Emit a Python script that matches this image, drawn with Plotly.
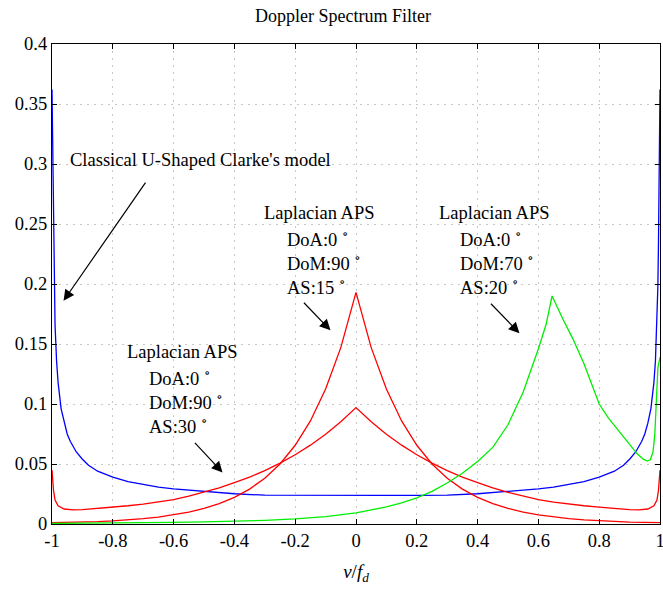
import plotly.graph_objects as go

# ---------------- data ----------------
clarke_x = [-1, -0.997, -0.995, -0.993, -0.99, -0.985, -0.98, -0.97, -0.96, -0.95, -0.94, -0.92,
            -0.9, -0.88, -0.85, -0.8, -0.75, -0.7, -0.65, -0.6, -0.5, -0.4, -0.3, -0.2, -0.1, 0,
            0.1, 0.2, 0.3, 0.4, 0.5, 0.6, 0.65, 0.7, 0.75, 0.8, 0.85, 0.88, 0.9, 0.92, 0.94, 0.95,
            0.96, 0.97, 0.98, 0.985, 0.99, 0.993, 0.995, 0.997, 1]
clarke_y = [0.362, 0.302, 0.234, 0.198, 0.166, 0.136, 0.118, 0.096, 0.084, 0.075, 0.069, 0.060,
            0.054, 0.049, 0.044, 0.039, 0.0354, 0.0328, 0.0308, 0.0293, 0.0270, 0.0252, 0.0240,
            0.0238, 0.0238, 0.0238, 0.0238, 0.0238, 0.0240, 0.0252, 0.0270, 0.0293, 0.0308, 0.0328,
            0.0354, 0.039, 0.044, 0.049, 0.054, 0.060, 0.069, 0.075, 0.084, 0.096, 0.118, 0.136,
            0.166, 0.198, 0.234, 0.302, 0.362]

as15_x = [-1, -0.95, -0.9, -0.85, -0.8, -0.75, -0.7, -0.65, -0.6, -0.55, -0.5, -0.45, -0.4, -0.35,
          -0.3, -0.25, -0.2, -0.15, -0.1, -0.05, 0, 0.05, 0.1, 0.15, 0.2, 0.25, 0.3, 0.35, 0.4,
          0.45, 0.5, 0.55, 0.6, 0.65, 0.7, 0.75, 0.8, 0.85, 0.9, 0.95, 1]
as15_y = [0.0012, 0.0013, 0.0015, 0.0020, 0.0026, 0.0034, 0.0044, 0.0058, 0.0076, 0.0099, 0.0130,
          0.0170, 0.0222, 0.0291, 0.0382, 0.0500, 0.0656, 0.0859, 0.1125, 0.147, 0.193, 0.147,
          0.1125, 0.0859, 0.0656, 0.0500, 0.0382, 0.0291, 0.0222, 0.0170, 0.0130, 0.0099, 0.0076,
          0.0058, 0.0044, 0.0034, 0.0026, 0.0020, 0.0015, 0.0013, 0.0012]

as30_x = [-1, -0.995, -0.99, -0.98, -0.96, -0.93, -0.9, -0.85, -0.8, -0.75, -0.7, -0.65, -0.6,
          -0.55, -0.5, -0.45, -0.4, -0.35, -0.3, -0.25, -0.2, -0.15, -0.1, -0.05, 0, 0.05, 0.1,
          0.15, 0.2, 0.25, 0.3, 0.35, 0.4, 0.45, 0.5, 0.55, 0.6, 0.65, 0.7, 0.75, 0.8, 0.85, 0.9,
          0.93, 0.96, 0.98, 0.99, 0.995, 1]
as30_y = [0.045, 0.028, 0.020, 0.0152, 0.0125, 0.0118, 0.0119, 0.0128, 0.0140, 0.0152, 0.0166,
          0.0183, 0.0204, 0.0232, 0.0264, 0.0301, 0.0345, 0.0391, 0.0445, 0.0507, 0.0577, 0.0657,
          0.0748, 0.0852, 0.097, 0.0852, 0.0748, 0.0657, 0.0577, 0.0507, 0.0445, 0.0391, 0.0345,
          0.0301, 0.0264, 0.0232, 0.0204, 0.0183, 0.0166, 0.0152, 0.0140, 0.0128, 0.0119, 0.0118,
          0.0125, 0.0152, 0.020, 0.028, 0.045]

dom70_x = [-1, -0.9, -0.8, -0.7, -0.6, -0.5, -0.4, -0.3, -0.2, -0.1, 0, 0.05, 0.1, 0.15, 0.2,
           0.25, 0.3, 0.35, 0.4, 0.45, 0.5, 0.55, 0.6, 0.625, 0.645, 0.68, 0.713, 0.75, 0.77, 0.8,
           0.83, 0.867, 0.9, 0.925, 0.945, 0.958, 0.968, 0.977, 0.983, 0.988, 0.993, 1]
dom70_y = [0.0005, 0.0006, 0.0008, 0.0010, 0.0013, 0.0017, 0.0022, 0.0030, 0.0042, 0.0062, 0.0093,
           0.0115, 0.0142, 0.0176, 0.0218, 0.0272, 0.0342, 0.0423, 0.052, 0.0638, 0.0827, 0.110,
           0.146, 0.166, 0.190, 0.171, 0.1545, 0.1336, 0.1197, 0.100, 0.0885, 0.0766, 0.066,
           0.0585, 0.0540, 0.0525, 0.0535, 0.060, 0.075, 0.111, 0.13, 0.139]

x_ticks = [-1, -0.8, -0.6, -0.4, -0.2, 0, 0.2, 0.4, 0.6, 0.8, 1]
x_tick_labels = ["-1", "-0.8", "-0.6", "-0.4", "-0.2", "0", "0.2", "0.4", "0.6", "0.8", "1"]
y_ticks = [0, 0.05, 0.1, 0.15, 0.2, 0.25, 0.3, 0.35, 0.4]
y_tick_labels = ["0", "0.05", "0.1", "0.15", "0.2", "0.25", "0.3", "0.35", "0.4"]

FONT = "Liberation Serif, Times New Roman, DejaVu Serif, serif"
ANN_SIZE = 18.5

fig = go.Figure()
fig.add_trace(go.Scatter(x=clarke_x, y=clarke_y, mode="lines", line=dict(color="#0000ff", width=1.3)))
fig.add_trace(go.Scatter(x=as15_x, y=as15_y, mode="lines", line=dict(color="#ff0000", width=1.3)))
fig.add_trace(go.Scatter(x=as30_x, y=as30_y, mode="lines", line=dict(color="#ff0000", width=1.3)))
fig.add_trace(go.Scatter(x=dom70_x, y=dom70_y, mode="lines", line=dict(color="#00ee00", width=1.3)))

deg = "<sup>∘</sup>"
texts = [
    ("Classical U-Shaped Clarke's model", -0.949, 0.303),
    ("Laplacian APS", -0.3076, 0.259),
    ("DoA:0 " + deg + "<br>DoM:90 " + deg + "<br>AS:15 " + deg, -0.235, 0.218),
    ("Laplacian APS", 0.2648, 0.259),
    ("DoA:0 " + deg + "<br>DoM:70 " + deg + "<br>AS:20 " + deg, 0.337, 0.218),
    ("Laplacian APS", -0.7615, 0.1431),
    ("DoA:0 " + deg + "<br>DoM:90 " + deg + "<br>AS:30 " + deg, -0.689, 0.1022),
]
annotations = []
for t, ax_, ay_ in texts:
    annotations.append(dict(text=t, x=ax_, y=ay_, xref="x", yref="y", showarrow=False,
                            xanchor="left", yanchor="middle", align="left",
                            font=dict(family=FONT, size=ANN_SIZE, color="black")))

arrows = [
    ((-0.689, 0.2857), (-0.962, 0.186)),
    ((-0.176, 0.1856), (-0.084, 0.1614)),
    ((0.4391, 0.1848), (0.5378, 0.159)),
    ((-0.5345, 0.0688), (-0.439, 0.043)),
]
for (tx, ty), (hx, hy) in arrows:
    annotations.append(dict(text="", x=hx, y=hy, ax=tx, ay=ty, xref="x", yref="y",
                            axref="x", ayref="y", showarrow=True, arrowhead=2,
                            arrowsize=1.8, arrowwidth=1.2, arrowcolor="black"))

fig.update_layout(
    width=663, height=590,
    margin=dict(l=52, r=3, t=44, b=66, autoexpand=False),
    paper_bgcolor="white", plot_bgcolor="white",
    showlegend=False,
    title=dict(text="Doppler Spectrum Filter", x=343 / 663, xanchor="center",
               y=1 - 16 / 590, yanchor="middle", yref="container",
               font=dict(family=FONT, size=18, color="black")),
    annotations=annotations,
    font=dict(family=FONT, size=18, color="black"),
)
axis_common = dict(showline=True, linecolor="black", linewidth=1.2, mirror="ticks",
                   ticks="inside", ticklen=5, tickcolor="black", tickwidth=1,
                   showgrid=True, gridcolor="#c8c8c8", griddash="2px,5px", gridwidth=1,
                   zeroline=False, ticklabeloverflow="allow", automargin=False,
                   tickfont=dict(family=FONT, size=18.5, color="black"))
fig.update_xaxes(range=[-1, 1], tickvals=x_ticks, ticktext=x_tick_labels,
                 title=dict(text="<i>ν</i>/<i>f</i><sub><i>d</i></sub>", standoff=14,
                            font=dict(family=FONT, size=19, color="black")),
                 **axis_common)
fig.update_yaxes(range=[0, 0.4], tickvals=y_ticks, ticktext=y_tick_labels, **axis_common)

fig.write_html("out.html")
